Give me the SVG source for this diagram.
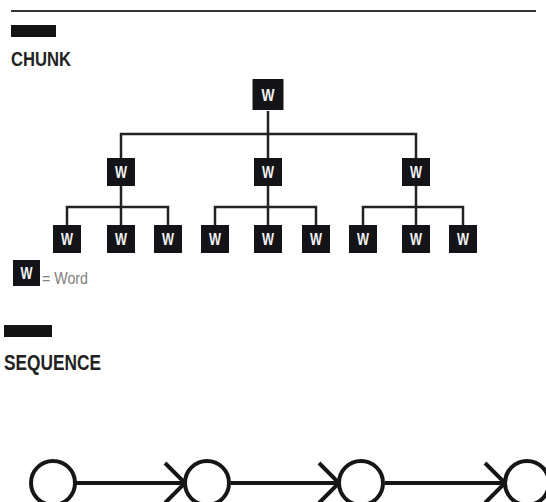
<svg xmlns="http://www.w3.org/2000/svg" width="546" height="502" viewBox="0 0 546 502">
  <style>
    .heading { font-family: "Liberation Sans", Arial, sans-serif; font-weight: bold; fill: #222; }
    .bar { fill: #141414; }
    .box { fill: #141418; }
    .w { font-family: "Liberation Sans", Arial, sans-serif; font-weight: bold; font-size: 17px; fill: #f2f2f2; text-anchor: middle; }
    .tree { fill: none; stroke: #222; stroke-width: 2.5; }
    .seq { fill: none; stroke: #161616; stroke-width: 4; }
    .legend { font-family: "Liberation Sans", Arial, sans-serif; font-size: 17px; fill: #808080; }
  </style>
  <defs>
    <marker id="chevron" viewBox="0 0 24 44" refX="22" refY="22" markerWidth="24" markerHeight="44" markerUnits="userSpaceOnUse" orient="auto">
      <path d="M2 2 L22 22 L2 42" fill="none" stroke="#161616" stroke-width="4"/>
    </marker>
  </defs>

  <rect width="546" height="502" fill="#ffffff"/>

  <!-- top rule -->
  <line x1="11" y1="11" x2="536" y2="11" stroke="#333" stroke-width="2"/>

  <!-- CHUNK heading -->
  <g id="chunk-title">
    <rect class="bar" x="11" y="25" width="45" height="12"/>
    <text class="heading" x="11" y="66" font-size="21" textLength="60" lengthAdjust="spacingAndGlyphs">CHUNK</text>
  </g>

  <!-- tree connectors -->
  <g id="tree-connectors">
    <path class="tree" d="M268 111 V158 M121 158 V134 H416 V158"/>
    <path class="tree" d="M121 186 V225 M67 225 V207 H168 V225"/>
    <path class="tree" d="M268 186 V225 M215 225 V207 H316 V225"/>
    <path class="tree" d="M416 186 V225 M363 225 V207 H463 V225"/>
  </g>

  <!-- root word -->
  <g id="root">
    <rect class="box" x="252.5" y="79" width="31" height="31"/>
    <text class="w" x="268" y="101" textLength="13" lengthAdjust="spacingAndGlyphs">W</text>
  </g>

  <!-- middle level words -->
  <g id="mid-1"><rect class="box" x="107" y="158" width="28" height="28"/><text class="w" x="121" y="178" textLength="12" lengthAdjust="spacingAndGlyphs">W</text></g>
  <g id="mid-2"><rect class="box" x="254" y="158" width="28" height="28"/><text class="w" x="268" y="178" textLength="12" lengthAdjust="spacingAndGlyphs">W</text></g>
  <g id="mid-3"><rect class="box" x="402" y="158" width="28" height="28"/><text class="w" x="416" y="178" textLength="12" lengthAdjust="spacingAndGlyphs">W</text></g>

  <!-- leaf words -->
  <g id="leaf-1"><rect class="box" x="53" y="225" width="28" height="28"/><text class="w" x="67" y="245" textLength="12" lengthAdjust="spacingAndGlyphs">W</text></g>
  <g id="leaf-2"><rect class="box" x="107" y="225" width="28" height="28"/><text class="w" x="121" y="245" textLength="12" lengthAdjust="spacingAndGlyphs">W</text></g>
  <g id="leaf-3"><rect class="box" x="154" y="225" width="28" height="28"/><text class="w" x="168" y="245" textLength="12" lengthAdjust="spacingAndGlyphs">W</text></g>
  <g id="leaf-4"><rect class="box" x="201" y="225" width="28" height="28"/><text class="w" x="215" y="245" textLength="12" lengthAdjust="spacingAndGlyphs">W</text></g>
  <g id="leaf-5"><rect class="box" x="254" y="225" width="28" height="28"/><text class="w" x="268" y="245" textLength="12" lengthAdjust="spacingAndGlyphs">W</text></g>
  <g id="leaf-6"><rect class="box" x="302" y="225" width="28" height="28"/><text class="w" x="316" y="245" textLength="12" lengthAdjust="spacingAndGlyphs">W</text></g>
  <g id="leaf-7"><rect class="box" x="349" y="225" width="28" height="28"/><text class="w" x="363" y="245" textLength="12" lengthAdjust="spacingAndGlyphs">W</text></g>
  <g id="leaf-8"><rect class="box" x="402" y="225" width="28" height="28"/><text class="w" x="416" y="245" textLength="12" lengthAdjust="spacingAndGlyphs">W</text></g>
  <g id="leaf-9"><rect class="box" x="449" y="225" width="28" height="28"/><text class="w" x="463" y="245" textLength="12" lengthAdjust="spacingAndGlyphs">W</text></g>

  <!-- legend -->
  <g id="legend">
    <rect class="box" x="13" y="260" width="27" height="26"/>
    <text class="w" x="26.5" y="279" textLength="12" lengthAdjust="spacingAndGlyphs">W</text>
    <text class="legend" x="42" y="284" textLength="46" lengthAdjust="spacingAndGlyphs">= Word</text>
  </g>

  <!-- SEQUENCE heading -->
  <g id="sequence-title">
    <rect class="bar" x="4" y="325" width="48" height="12"/>
    <text class="heading" x="4" y="370" font-size="22" textLength="97" lengthAdjust="spacingAndGlyphs">SEQUENCE</text>
  </g>

  <!-- sequence connectors -->
  <g id="sequence-connectors">
    <line class="seq" x1="75" y1="483" x2="185" y2="483" marker-end="url(#chevron)"/>
    <line class="seq" x1="231" y1="483" x2="339" y2="483" marker-end="url(#chevron)"/>
    <line class="seq" x1="385" y1="483" x2="505" y2="483" marker-end="url(#chevron)"/>
  </g>

  <!-- sequence steps -->
  <g id="step-1"><circle class="seq" cx="53" cy="483" r="22"/></g>
  <g id="step-2"><circle class="seq" cx="207" cy="483" r="22"/></g>
  <g id="step-3"><circle class="seq" cx="361" cy="483" r="22"/></g>
  <g id="step-4"><circle class="seq" cx="527" cy="483" r="22"/></g>
</svg>
